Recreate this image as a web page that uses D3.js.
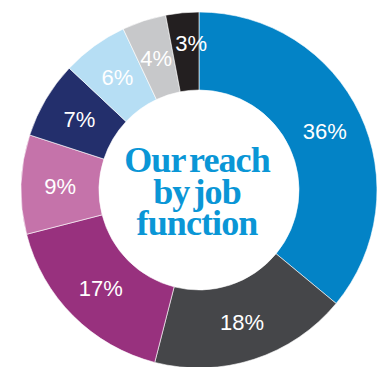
<!DOCTYPE html>
<html>
<head>
<meta charset="utf-8">
<script src="https://cdn.jsdelivr.net/npm/d3@7"></script>
<style>
  body { margin: 0; background: #fff; }
</style>
</head>
<body>
<div id="chart"></div>
<script>
// data
const categories = ["A", "B", "C", "D", "E", "F", "G", "H"];
const values = [36, 18, 17, 9, 7, 6, 4, 3];
const labels = ["36%", "18%", "17%", "9%", "7%", "6%", "4%", "3%"];
const colors = ["#0383c6", "#454649", "#98317e", "#c573aa", "#232f6c", "#b6def4", "#c7c8ca", "#231f20"];
const titleLines = ["Our reach", "by job", "function"];

const width = 380, height = 367;
const cx = 199, cy = 190;
const outerR = 178, innerR = 100;

const svg = d3.select("#chart")
  .append("svg")
  .attr("width", width)
  .attr("height", height);

const g = svg.append("g").attr("transform", `translate(${cx},${cy})`);

const pie = d3.pie().sort(null).value(d => d.value);
const arc = d3.arc().innerRadius(innerR).outerRadius(outerR);
const labelArc = d3.arc().innerRadius(innerR + 39).outerRadius(outerR - 39);
// the thinnest slice gets its label pushed a bit further out
const smallArc = d3.arc().innerRadius(innerR + 48).outerRadius(outerR - 30);

const data = categories.map((c, i) => ({ cat: c, value: values[i], label: labels[i], color: colors[i] }));
const arcs = pie(data);

g.selectAll("path.slice")
  .data(arcs)
  .join("path")
  .attr("class", "slice")
  .attr("d", arc)
  .attr("fill", d => d.data.color)
  .attr("stroke", "#fff")
  .attr("stroke-width", 0.6);

g.selectAll("text.pct")
  .data(arcs)
  .join("text")
  .attr("class", "pct")
  .attr("transform", d => {
    const [x, y] = (d.data.value <= 3 ? smallArc : labelArc).centroid(d);
    return `translate(${x},${y})`;
  })
  .attr("dx", d => d.data.value <= 3 ? 6 : 0)
  .attr("text-anchor", "middle")
  .attr("dy", "0.36em")
  .attr("fill", "#fff")
  .attr("font-family", "'Liberation Sans', Arial, sans-serif")
  .attr("font-size", 22)
  .text(d => d.data.label);

// centre title
g.selectAll("text.title")
  .data(titleLines)
  .join("text")
  .attr("class", "title")
  .attr("x", -2)
  .attr("y", (d, i) => -18 + i * 31.5)
  .attr("text-anchor", "middle")
  .attr("fill", "#0a96d6")
  .attr("font-family", "'Liberation Serif', 'DejaVu Serif', serif")
  .attr("font-weight", "bold")
  .attr("font-size", 36)
  .attr("letter-spacing", -0.9)
  .attr("word-spacing", -4)
  .text(d => d);
</script>
</body>
</html>
